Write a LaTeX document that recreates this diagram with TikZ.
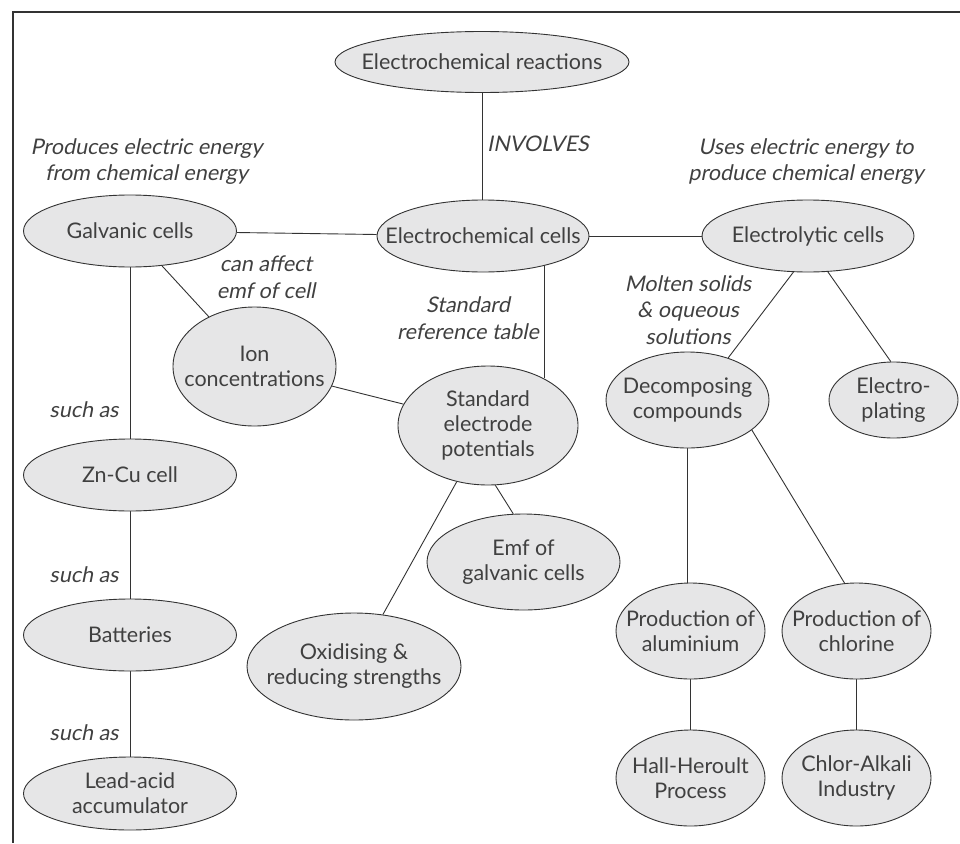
\documentclass[tikz,border=0pt]{standalone}
\usepackage{fontspec}
\setmainfont{Lato}
\newfontfamily\obliquefont{Lato}[FakeSlant=0.2]
\usetikzlibrary{shapes.geometric,backgrounds}
\definecolor{nodefill}{HTML}{E6E6E7}
\definecolor{ink}{HTML}{333333}
\definecolor{txt}{HTML}{404040}
\begin{document}
\begin{tikzpicture}[x=1pt,y=-1pt,
  bub/.style={ellipse,draw=ink,fill=nodefill,line width=0.9pt,inner sep=0pt},
  bubtext/.style={font=\fontsize{21.5}{25}\selectfont,text=txt,align=center,inner sep=0pt},
  lbl/.style={font=\fontsize{21.5}{26.5}\selectfont\obliquefont,text=txt,align=center,inner sep=0pt},
  link/.style={draw=ink,line width=0.9pt}]
\useasboundingbox (0,0) rectangle (960,843);
\draw[ink,line width=1.2pt] (960,12) -- (13,12) -- (13,843);

\node[bub,minimum width=294,minimum height=61,label={[bubtext]center:Electrochemical reactions}] (react) at (482,62) {};
\node[bub,minimum width=213,minimum height=72,label={[bubtext]center:Galvanic cells}] (galv) at (130,231) {};
\node[bub,minimum width=212,minimum height=72,label={[bubtext]center:Electrochemical cells}] (ecell) at (483,236) {};
\node[bub,minimum width=212,minimum height=72,label={[bubtext]center:Electrolytic cells}] (elyt) at (808,236) {};
\node[bub,minimum width=163,minimum height=119,label={[bubtext]center:{Ion\\concentrations}}] (ion) at (254.5,366.5) {};
\node[bub,minimum width=180,minimum height=119,label={[bubtext]center:{Standard\\electrode\\potentials}}] (sep) at (488,425.5) {};
\node[bub,minimum width=213,minimum height=72,label={[bubtext]center:Zn-Cu cell}] (zncu) at (130,475) {};
\node[bub,minimum width=213,minimum height=72,label={[bubtext]center:Batteries}] (batt) at (130,635) {};
\node[bub,minimum width=213,minimum height=73,label={[bubtext]center:{Lead-acid\\accumulator}}] (lead) at (130,793.5) {};
\node[bub,minimum width=214,minimum height=107,label={[bubtext]center:{Oxidising \&\\reducing strengths}}] (oxid) at (354,666.5) {};
\node[bub,minimum width=193,minimum height=96,label={[bubtext]center:{Emf of\\galvanic cells}}] (emf) at (523.5,562) {};
\node[bub,minimum width=163,minimum height=96,label={[bubtext]center:{Decomposing\\compounds}}] (decomp) at (687.5,400) {};
\node[bub,minimum width=129,minimum height=76,label={[bubtext]center:{Electro-\\plating}}] (plate) at (893.5,400) {};
\node[bub,minimum width=149,minimum height=96,label={[bubtext]center:{Production of\\aluminium}}] (pal) at (690.5,631) {};
\node[bub,minimum width=149,minimum height=96,label={[bubtext]center:{Production of\\chlorine}}] (pcl) at (856.5,631) {};
\node[bub,minimum width=149,minimum height=96,label={[bubtext]center:{Hall-Heroult\\Process}}] (hall) at (690.5,778) {};
\node[bub,minimum width=149,minimum height=96,label={[bubtext]center:{Chlor-Alkali\\Industry}}] (chlor) at (856.5,778) {};

\node[lbl] (t1) at (538,144) {INVOLVES};
\node[lbl] (t2) at (146.5,161.5) {Produces electric energy\\from chemical energy};
\node[lbl] (t3) at (806,161.5) {Uses electric energy to\\produce chemical energy};
\node[lbl] (t4) at (266,277) {can affect\\emf of cell};
\node[lbl] (t5) at (468,318) {Standard\\reference table};
\node[lbl] (t6) at (688,310) {Molten solids\\\& oqueous\\solutions};
\node[lbl] (t7) at (84,410) {such as};
\node[lbl] (t8) at (84,575) {such as};
\node[lbl] (t9) at (84,733) {such as};

\begin{scope}[on background layer]
\draw[link] (react.center) -- (react.center |- ecell.center);
\draw[link] (galv) -- (ecell);
\draw[link] (ecell) -- (elyt);
\draw[link] (galv) -- (zncu);
\draw[link] (zncu) -- (batt);
\draw[link] (batt) -- (lead);
\draw[link] (galv) -- (ion);
\draw[link] (ion) -- (sep);
\draw[link] (sep.40) -- (sep.40 |- ecell.center);
\draw[link] (sep) -- (oxid);
\draw[link] (sep.-83) -- (emf.102);
\draw[link] (elyt.-112.6) -- (decomp.46);
\draw[link] (elyt.-61) -- (plate.94);
\draw[link] (decomp.center) -- (decomp.center |- pal.center);
\draw[link] (decomp.-25.7) -- (pcl.104.6);
\draw[link] (pal) -- (hall);
\draw[link] (pcl) -- (chlor);
\end{scope}
\end{tikzpicture}
\end{document}
